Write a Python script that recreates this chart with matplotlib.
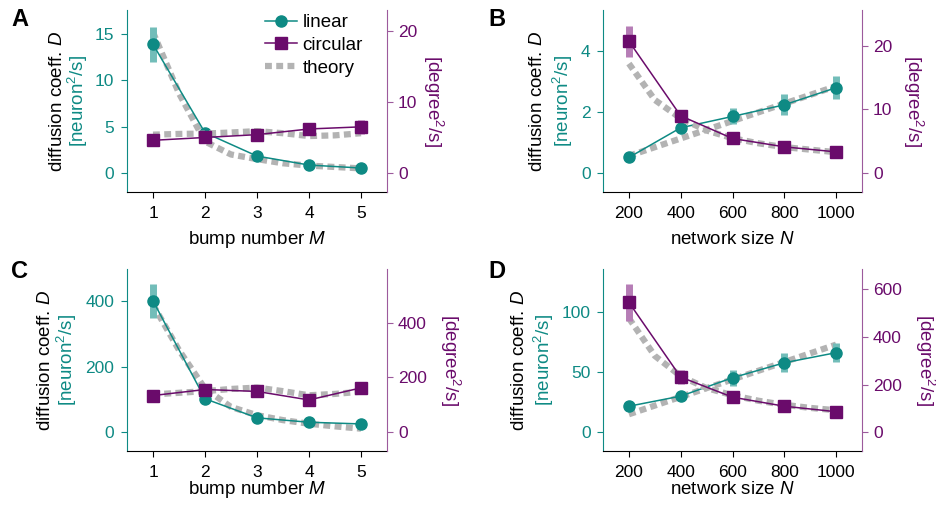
# -*- coding: utf-8 -*-

import matplotlib
matplotlib.use('Agg')
import matplotlib.pyplot as plt
from matplotlib.lines import Line2D

plt.rcParams['font.family'] = ['Liberation Sans', 'DejaVu Sans']
plt.rcParams['mathtext.fontset'] = 'custom'
plt.rcParams['mathtext.rm'] = 'Liberation Sans'
plt.rcParams['mathtext.it'] = 'Liberation Sans:italic'
plt.rcParams['font.size'] = 12.5

LAB = 13.5

# --- data ---
bump_M = [1, 2, 3, 4, 5]
net_N = [200, 400, 600, 800, 1000]
theo_M = [1, 1.5, 2, 2.5, 3, 3.5, 4, 4.5, 5]
theo_N = [200, 300, 400, 500, 600, 700, 800, 900, 1000]

# A: bump number, small noise
a_lin = [13.9, 4.35, 1.83, 0.86, 0.54]
a_lin_err = [1.9, 0.2, 0.1, 0.05, 0.05]
a_circ = [4.6, 5.0, 5.4, 6.2, 6.5]
a_circ_err = [0.3, 0.3, 0.3, 0.4, 1.0]
a_theo_lin = [15.2, 8.6, 3.4, 2.0, 1.5, 1.05, 0.8, 0.65, 0.5]
a_theo_circ = [5.4, 5.5, 5.55, 5.7, 5.9, 5.6, 5.2, 5.3, 5.6]

# B: network size, small noise
b_lin = [0.52, 1.49, 1.86, 2.24, 2.8]
b_lin_err = [0.05, 0.1, 0.26, 0.34, 0.38]
b_circ = [20.7, 9.0, 5.45, 4.14, 3.35]
b_circ_err = [2.4, 0.8, 0.4, 0.3, 0.3]
b_theo_lin = [0.57, 1.14, 1.71, 2.28, 2.85]
b_theo_circ = [17.2, 11.5, 8.6, 6.7, 5.5, 4.7, 4.1, 3.7, 3.3]

# C: bump number, large noise
c_lin = [400, 102, 44, 30.5, 25.4]
c_lin_err = [51, 8, 5, 4, 3]
c_circ = [134, 156, 149, 118, 162]
c_circ_err = [12, 12, 12, 12, 15]
c_theo_lin = [388, 250, 133, 77, 52, 37, 26, 18, 11]
c_theo_circ = [138, 144, 150, 158, 163, 150, 135, 140, 148]

# D: network size, large noise
d_lin = [21.7, 30.1, 45.4, 57.9, 66.3]
d_lin_err = [2, 3, 6.5, 8, 8]
d_circ = [544, 231, 147, 109, 86]
d_circ_err = [77, 28, 12, 10, 8]
d_theo_lin = [15, 29.5, 44, 58.5, 73]
d_theo_circ = [478, 320, 235, 185, 155, 132, 115, 102, 92]

TEAL = '#0e8a84'
TEAL_L = '#72bdb9'
PURP = '#6a0b6b'
PURP_L = '#b67db6'
PURP_SP = '#9c5a9c'
GRAY = '#b3b3b3'

W, H = 936, 507
fig = plt.figure(figsize=(W / 100, H / 100), dpi=100)


def fx(px):
    return px / W


def fy(py):
    return 1 - py / H


def panel(rect, x, lin, lin_err, circ, circ_err, tx_lin, th_lin, tx_circ, th_circ,
          xlim, ylim_l, ylim_r, yt_l, yt_r):
    ax = fig.add_axes(rect)
    ax2 = ax.twinx()

    ax.errorbar(x, lin, yerr=lin_err, fmt='none', ecolor=TEAL_L, elinewidth=5, zorder=2)
    ax.plot(tx_lin, th_lin, color=GRAY, lw=4.5, dashes=(1.1, 0.7), zorder=1)
    ax.plot(x, lin, color=TEAL, lw=1.1, marker='o', ms=8, zorder=3)

    ax2.errorbar(x, circ, yerr=circ_err, fmt='none', ecolor=PURP_L, elinewidth=5, zorder=2)
    ax2.plot(tx_circ, th_circ, color=GRAY, lw=4.5, dashes=(1.1, 0.7), zorder=1)
    ax2.plot(x, circ, color=PURP, lw=1.1, marker='s', ms=9, zorder=3)

    ax.set_xlim(xlim)
    ax.set_xticks(x)
    ax.set_ylim(ylim_l)
    ax.set_yticks(yt_l)
    ax2.set_ylim(ylim_r)
    ax2.set_yticks(yt_r)

    for a in (ax, ax2):
        a.spines['top'].set_visible(False)
    ax.spines['right'].set_visible(False)
    ax2.spines['left'].set_visible(False)
    ax2.spines['bottom'].set_visible(False)
    ax.spines['left'].set_color(TEAL)
    ax2.spines['right'].set_color(PURP_SP)
    ax.tick_params(axis='y', colors=TEAL, labelcolor=TEAL, length=4, pad=5)
    ax.tick_params(axis='x', length=4, pad=6)
    ax2.tick_params(axis='y', colors=PURP_SP, labelcolor=PURP, length=4, pad=4)
    return ax, ax2


ax_a, ax_a2 = panel([fx(127), fy(192), fx(260), fy(10) - fy(192)],
                    bump_M, a_lin, a_lin_err, a_circ, a_circ_err,
                    theo_M, a_theo_lin, theo_M, a_theo_circ,
                    (0.5, 5.5), (-2.05, 17.6), (-2.7, 23.0), [0, 5, 10, 15], [0, 10, 20])
panel([fx(603), fy(192), fx(259), fy(10) - fy(192)],
      net_N, b_lin, b_lin_err, b_circ, b_circ_err,
      net_N, b_theo_lin, theo_N, b_theo_circ,
      (100, 1100), (-0.61, 5.34), (-2.94, 25.6), [0, 2, 4], [0, 10, 20])
panel([fx(127), fy(451), fx(260), fy(269) - fy(451)],
      bump_M, c_lin, c_lin_err, c_circ, c_circ_err,
      theo_M, c_theo_lin, theo_M, c_theo_circ,
      (0.5, 5.5), (-57, 497), (-68, 595), [0, 200, 400], [0, 200, 400])
panel([fx(603), fy(451), fx(259), fy(269) - fy(451)],
      net_N, d_lin, d_lin_err, d_circ, d_circ_err,
      net_N, d_theo_lin, theo_N, d_theo_circ,
      (100, 1100), (-15.6, 136), (-78.6, 684), [0, 50, 100], [0, 200, 400, 600])

# x labels
for px, py, txt in [(257, 240, 'bump number $M$'), (732, 240, 'network size $N$'),
                    (257, 490, 'bump number $M$'), (732, 490, 'network size $N$')]:
    fig.text(fx(px), fy(py), txt, fontsize=LAB, ha='center', va='center')

# y labels (two-colour left label, purple right label)
lab_pos = [
    (57, 78, 433, 101), (537, 563, 913, 101),
    (45, 67, 450, 360), (520, 544, 925, 360),
]
for xd, xn, xr, yc in lab_pos:
    fig.text(fx(xd), fy(yc), 'diffusion coeff. $D$', rotation=90, fontsize=LAB,
             ha='center', va='center', color='black')
    fig.text(fx(xn), fy(yc), '[neuron$^2$/s]', rotation=90, fontsize=LAB,
             ha='center', va='center', color=TEAL)
    fig.text(fx(xr), fy(yc), '[degree$^2$/s]', rotation=270, fontsize=LAB,
             ha='center', va='center', color=PURP)

# panel letters
for lett, px, py in [('A', 20, 20), ('B', 497, 20), ('C', 20, 272), ('D', 497, 272)]:
    fig.text(fx(px), fy(py), lett, fontsize=17, fontweight='bold',
             ha='center', va='center')

# legend
handles = [
    Line2D([], [], color=TEAL, lw=1.1, marker='o', ms=8),
    Line2D([], [], color=PURP, lw=1.1, marker='s', ms=9),
    Line2D([], [], color=GRAY, lw=4.5, dashes=(1.1, 0.7)),
]
ax_a2.legend(handles, ['linear', 'circular', 'theory'], loc='upper left',
             bbox_to_anchor=(fx(265), fy(14)), bbox_transform=fig.transFigure,
             frameon=False, handlelength=1.7, handletextpad=0.3, fontsize=LAB,
             labelspacing=0.3, borderaxespad=0, borderpad=0)

fig.savefig('out.png', dpi=100)
